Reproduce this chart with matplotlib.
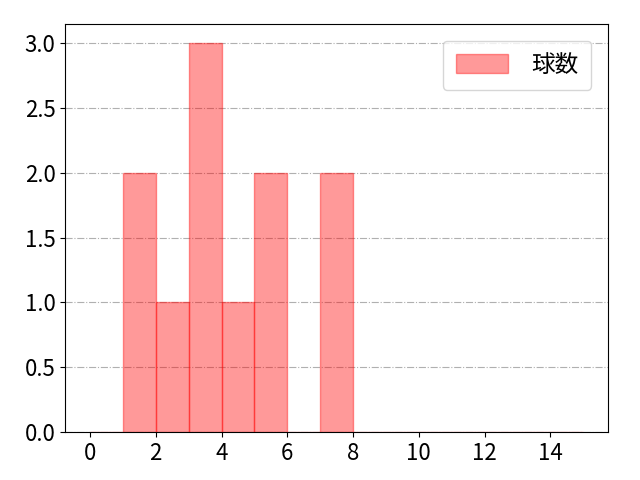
import matplotlib
matplotlib.use("Agg")
import matplotlib.pyplot as plt

plt.rcParams['font.family'] = ['Noto Sans CJK JP', 'DejaVu Sans']
plt.rcParams['font.size'] = 16

# pitch counts per at-bat
pitch_counts = [1, 1, 2, 3, 3, 3, 4, 5, 5, 7, 7]
bin_edges = list(range(0, 16))
legend_label = '球数'

fig, ax = plt.subplots(figsize=(6.4, 4.8), dpi=100)
ax.hist(pitch_counts, bins=bin_edges, color='red', alpha=0.4,
        edgecolor='red', label=legend_label)
ax.grid(axis='y', linestyle='-.', color='#b0b0b0')
ax.set_axisbelow(True)
ax.set_xticks([0, 2, 4, 6, 8, 10, 12, 14])
ax.legend(loc='upper right', fontsize=17, handlelength=2.2,
          handleheight=0.85, handletextpad=1.0, borderpad=0.55,
          borderaxespad=0.7)
fig.subplots_adjust(left=0.102, right=0.95, top=0.95, bottom=0.1)
fig.savefig('out.png')
